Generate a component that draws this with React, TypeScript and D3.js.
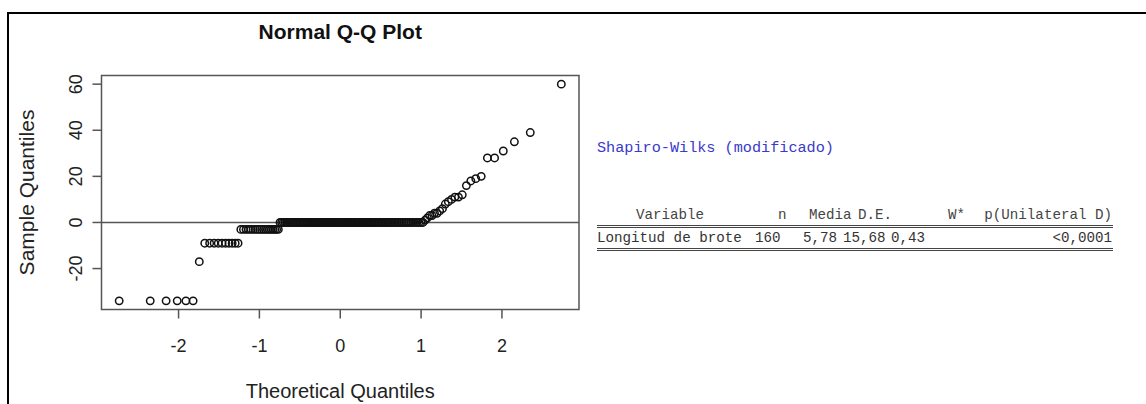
import React from 'react';
import * as d3 from 'd3';

// sorted sample values, run-length encoded (value, how many times)
const sampleValues = [-34, -17, -9, -3, 0, 1, 2, 3, 4, 5, 6, 8, 9, 10, 11, 12, 16, 18, 19, 20, 28, 31, 35, 39, 60];
const sampleCounts = [6, 1, 10, 19, 100, 1, 1, 2, 2, 1, 1, 1, 1, 1, 2, 1, 1, 1, 1, 1, 2, 1, 1, 1, 1];

const xTicks = [-2, -1, 0, 1, 2];
const yTicks = [-20, 0, 20, 40, 60];

const headerCells = ['Variable', 'n', 'Media', 'D.E.', 'W*', 'p(Unilateral D)'];
const headerX = [636, 778, 809, 858, 948, 1112];
const rowCells = ['Longitud de brote', '160', '5,78', '15,68', '0,43', '<0,0001'];
const rowX = [597, 755, 803, 843, 891, 1112];

// inverse normal cdf (Acklam)
function qnorm(p: number) {
  const a = [-39.69683028665376, 220.9460984245205, -275.9285104469687, 138.357751867269, -30.66479806614716, 2.506628277459239];
  const b = [-54.47609879822406, 161.5858368580409, -155.6989798598866, 66.80131188771972, -13.28068155288572];
  const c = [-0.007784894002430293, -0.3223964580411365, -2.400758277161838, -2.549732539343734, 4.374664141464968, 2.938163982698783];
  const d = [0.007784695709041462, 0.3224671290700398, 2.445134137142996, 3.754408661907416];
  const pl = 0.02425;
  if (p < pl) {
    const q = Math.sqrt(-2 * Math.log(p));
    return (((((c[0] * q + c[1]) * q + c[2]) * q + c[3]) * q + c[4]) * q + c[5]) / ((((d[0] * q + d[1]) * q + d[2]) * q + d[3]) * q + 1);
  }
  if (p > 1 - pl) {
    const q = Math.sqrt(-2 * Math.log(1 - p));
    return -(((((c[0] * q + c[1]) * q + c[2]) * q + c[3]) * q + c[4]) * q + c[5]) / ((((d[0] * q + d[1]) * q + d[2]) * q + d[3]) * q + 1);
  }
  const q = p - 0.5;
  const r = q * q;
  return (((((a[0] * r + a[1]) * r + a[2]) * r + a[3]) * r + a[4]) * r + a[5]) * q / (((((b[0] * r + b[1]) * r + b[2]) * r + b[3]) * r + b[4]) * r + 1);
}

const sample: number[] = [];
sampleValues.forEach((v, k) => { for (let j = 0; j < sampleCounts[k]; j++) sample.push(v); });
const n = sample.length;
const points = sample.map((y, i) => ({ x: qnorm((i + 0.5) / n), y }));

// R style 4% axis extension
const ext = (lo: number, hi: number) => { const e = (hi - lo) * 0.04; return [lo - e, hi + e]; };

const plot = { left: 101.5, right: 579, top: 75.5, bottom: 309.5 };

const App: React.FC = () => {
  const xs = d3.extent(points, d => d.x) as [number, number];
  const ys = d3.extent(points, d => d.y) as [number, number];
  const x = d3.scaleLinear().domain(ext(xs[0], xs[1])).range([plot.left, plot.right]);
  const y = d3.scaleLinear().domain(ext(ys[0], ys[1])).range([plot.bottom, plot.top]);
  const sans = '"Liberation Sans", Arial, sans-serif';
  const mono = '"Liberation Mono", "Courier New", monospace';
  const cx = (plot.left + plot.right) / 2;
  const cy = (plot.top + plot.bottom) / 2;

  return (
    <div style={{ position: 'absolute', left: 0, top: 0 }}>
      <svg width={1146} height={404} style={{ display: 'block', background: '#fff' }}>
        <rect x={8} y={13} width={1160} height={420} fill="none" stroke="#000" strokeWidth={2} />

        <text x={cx} y={39} textAnchor="middle" fontFamily={sans} fontWeight="bold" fontSize={21} fill="#111">Normal Q-Q Plot</text>

        {/* zero line */}
        <line x1={plot.left} x2={plot.right} y1={y(0)} y2={y(0)} stroke="#555" strokeWidth={1.5} />

        {points.map((p, i) => (
          <circle key={i} cx={x(p.x)} cy={y(p.y)} r={3.7} fill="none" stroke="#111" strokeWidth={1.5} />
        ))}

        <rect x={plot.left} y={plot.top} width={plot.right - plot.left} height={plot.bottom - plot.top} fill="none" stroke="#555" strokeWidth={1.5} />

        {xTicks.map(t => (
          <g key={'x' + t}>
            <line x1={x(t)} x2={x(t)} y1={plot.bottom} y2={plot.bottom + 9} stroke="#555" strokeWidth={1.5} />
            <text x={x(t)} y={352} textAnchor="middle" fontFamily={sans} fontSize={18} fill="#222">{t}</text>
          </g>
        ))}
        {yTicks.map(t => (
          <g key={'y' + t}>
            <line x1={plot.left - 9} x2={plot.left} y1={y(t)} y2={y(t)} stroke="#555" strokeWidth={1.5} />
            <text transform={`translate(82,${y(t)}) rotate(-90)`} textAnchor="middle" fontFamily={sans} fontSize={18} fill="#222">{t}</text>
          </g>
        ))}

        <text x={cx} y={398} textAnchor="middle" fontFamily={sans} fontSize={20} fill="#222">Theoretical Quantiles</text>
        <text transform={`translate(34,${cy}) rotate(-90)`} textAnchor="middle" fontFamily={sans} fontSize={21} fill="#222">Sample Quantiles</text>

        <text x={597} y={152} fontFamily={mono} fontSize={15.2} fill="#3a3acc">Shapiro-Wilks (modificado)</text>

        {headerCells.map((c, i) => (
          <text key={'h' + i} x={headerX[i]} y={219} textAnchor={i === headerCells.length - 1 ? 'end' : 'start'} fontFamily={mono} fontSize={14.2} fill="#444">{c}</text>
        ))}
        <line x1={597} x2={1113} y1={225.5} y2={225.5} stroke="#444" strokeWidth={1} />
        <line x1={597} x2={1113} y1={227.5} y2={227.5} stroke="#444" strokeWidth={1} />
        {rowCells.map((c, i) => (
          <text key={'r' + i} x={rowX[i]} y={242} textAnchor={i === rowCells.length - 1 ? 'end' : 'start'} fontFamily={mono} fontSize={14.2} fill="#333">{c}</text>
        ))}
        <line x1={597} x2={1113} y1={248.5} y2={248.5} stroke="#444" strokeWidth={1} />
        <line x1={597} x2={1113} y1={250.5} y2={250.5} stroke="#444" strokeWidth={1} />
      </svg>
    </div>
  );
};

export default App;
